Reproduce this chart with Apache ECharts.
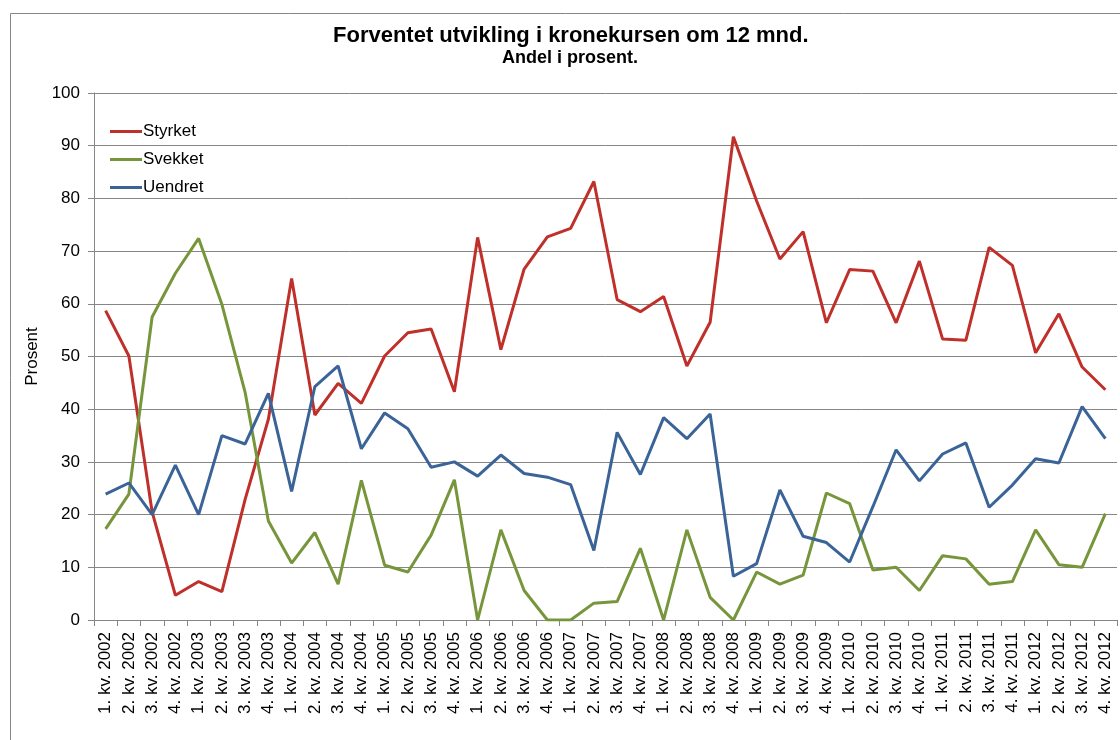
<!DOCTYPE html>
<html>
<head>
<meta charset="utf-8">
<title>Forventet utvikling i kronekursen</title>
<script src="https://cdn.jsdelivr.net/npm/echarts@6/dist/echarts.min.js"></script>
<style>
  html, body { margin: 0; padding: 0; background: #fff; }
  #chart { width: 1120px; height: 740px; }
</style>
</head>
<body>
<div id="chart"></div>
<script>
// kvartaler 1. kv. 2002 - 4. kv. 2012
const years = [2002, 2003, 2004, 2005, 2006, 2007, 2008, 2009, 2010, 2011, 2012];
const quarters = [];
years.forEach(y => {
  [1, 2, 3, 4].forEach(q => quarters.push(q + '. kv. ' + y));
});

const styrket = [
  58.7, 50.1, 20.5, 4.7, 7.3, 5.4, 22.9, 38.1, 64.8, 38.9, 44.9, 41.1,
  50.1, 54.5, 55.2, 43.3, 72.6, 51.3, 66.6, 72.7, 74.3, 83.2, 60.8, 58.5,
  61.4, 48.2, 56.5, 91.7, 79.5, 68.5, 73.7, 56.4, 66.5, 66.2, 56.4, 68.1,
  53.3, 53.1, 70.7, 67.3, 50.7, 58.1, 48.0, 43.7
];
const svekket = [
  17.3, 23.9, 57.5, 65.8, 72.4, 59.9, 43.2, 18.8, 10.8, 16.6, 6.8, 26.5,
  10.4, 9.1, 16.1, 26.6, 0, 17.1, 5.6, 0, 0, 3.2, 3.5, 13.6,
  0, 17.1, 4.3, 0, 9.1, 6.8, 8.5, 24.1, 22.1, 9.5, 10.0, 5.6,
  12.2, 11.6, 6.8, 7.3, 17.1, 10.5, 10.0, 20.2
];
const uendret = [
  23.9, 26.0, 20.0, 29.4, 20.0, 35.0, 33.4, 43.0, 24.4, 44.3, 48.2, 32.5,
  39.3, 36.3, 29.0, 30.0, 27.3, 31.3, 27.8, 27.1, 25.7, 13.2, 35.6, 27.6,
  38.4, 34.4, 39.1, 8.3, 10.7, 24.7, 15.9, 14.7, 11.0, 21.5, 32.3, 26.4,
  31.5, 33.6, 21.4, 25.6, 30.6, 29.8, 40.5, 34.4
];

const chart = echarts.init(document.getElementById('chart'));
const grey = '#868686';
const font = 'Liberation Sans, Arial, sans-serif';

const option = {
  animation: false,
  textStyle: { fontFamily: font, color: '#000' },
  graphic: [
    {
      // ramme rundt diagrammet
      type: 'rect',
      shape: { x: 10.5, y: 13.5, width: 1200, height: 800 },
      style: { fill: 'none', stroke: grey, lineWidth: 1 },
      silent: true
    }
  ],
  title: [
    {
      text: 'Forventet utvikling i kronekursen om 12 mnd.',
      left: 333,
      top: 25,
      padding: 0,
      textStyle: { fontSize: 22, fontWeight: 'bold', color: '#000', fontFamily: font }
    },
    {
      text: 'Andel i prosent.',
      left: 502,
      top: 49,
      padding: 0,
      textStyle: { fontSize: 18, fontWeight: 'bold', color: '#000', fontFamily: font }
    }
  ],
  legend: {
    orient: 'vertical',
    left: 105,
    top: 118,
    itemWidth: 32,
    itemHeight: 3,
    itemGap: 11,
    icon: 'rect',
    textStyle: { fontSize: 17, color: '#000', fontFamily: font, padding: [0, 0, 0, -4] },
    data: ['Styrket', 'Svekket', 'Uendret']
  },
  grid: { left: 94, right: 3, top: 93, bottom: 120 },
  xAxis: {
    type: 'category',
    data: quarters,
    boundaryGap: true,
    axisLine: { lineStyle: { color: grey } },
    axisTick: { show: true, length: 6, lineStyle: { color: grey } },
    axisLabel: { rotate: 90, interval: 0, fontSize: 17, color: '#000', margin: 12 }
  },
  yAxis: {
    type: 'value',
    min: 0,
    max: 100,
    interval: 10,
    name: 'Prosent',
    nameLocation: 'middle',
    nameRotate: 90,
    nameGap: 52,
    nameTextStyle: { fontSize: 17, color: '#000' },
    axisLine: { show: true, lineStyle: { color: grey } },
    axisTick: { show: true, length: 6, lineStyle: { color: grey } },
    axisLabel: { fontSize: 17, color: '#000', margin: 14 },
    splitLine: { lineStyle: { color: grey, width: 1 } }
  },
  series: [
    {
      name: 'Styrket', type: 'line', data: styrket,
      symbol: 'none', color: '#C0302B', lineStyle: { width: 3 }
    },
    {
      name: 'Svekket', type: 'line', data: svekket,
      symbol: 'none', color: '#77963B', lineStyle: { width: 3 }
    },
    {
      name: 'Uendret', type: 'line', data: uendret,
      symbol: 'none', color: '#3A6497', lineStyle: { width: 3 }
    }
  ]
};

chart.setOption(option);
</script>
</body>
</html>
